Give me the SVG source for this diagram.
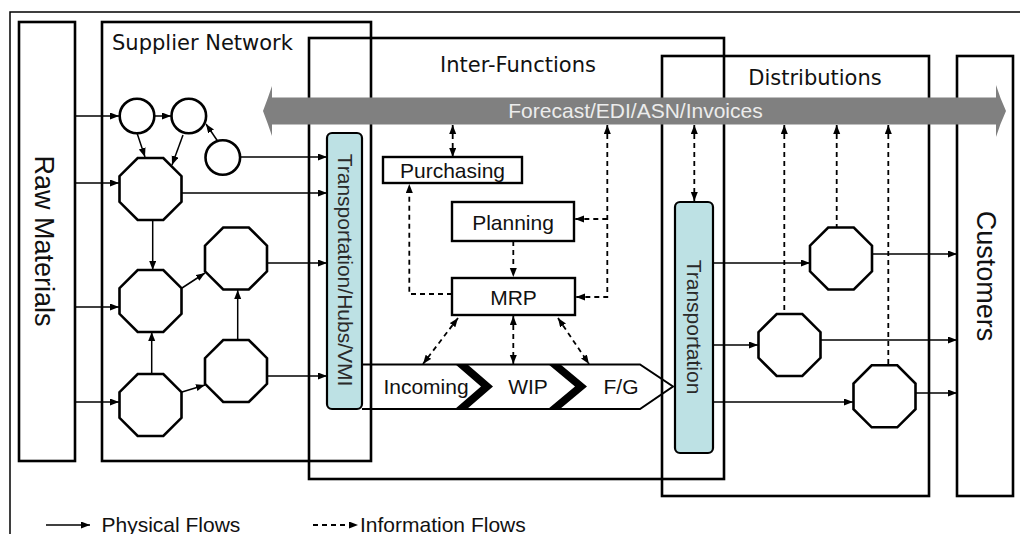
<svg xmlns="http://www.w3.org/2000/svg" width="1020" height="534" viewBox="0 0 1020 534">
  <style>
    .box { fill: none; stroke: #000; stroke-width: 2.6; }
    .frame { fill: none; stroke: #000; stroke-width: 1.5; }
    .hdr { font-family: "DejaVu Sans", sans-serif; font-size: 21px; fill: #111; }
    .lbl { font-family: "Liberation Sans", Arial, sans-serif; font-size: 21px; fill: #111; }
    .big { font-family: "Liberation Sans", Arial, sans-serif; font-size: 27px; fill: #111; }
    .vt { font-family: "Liberation Sans", Arial, sans-serif; font-size: 21px; fill: #2a2a2a; }
    .node { fill: #fff; stroke: #000; stroke-width: 2.6; }
    .fn { fill: #fff; stroke: #000; stroke-width: 2.4; }
    .teal { fill: #bde1e4; stroke: #000; stroke-width: 2.2; }
    .phys { fill: none; stroke: #000; stroke-width: 1.5; marker-end: url(#ah); }
    .info { fill: none; stroke: #000; stroke-width: 1.8; stroke-dasharray: 5 4; marker-end: url(#ah); }
    .both { marker-start: url(#ah); }
    .up { marker-end: none; marker-start: url(#ah); }
  </style>
  <defs>
    <marker id="ah" markerUnits="userSpaceOnUse" markerWidth="10" markerHeight="8" refX="9" refY="3.5" orient="auto-start-reverse">
      <path d="M0,0 L9,3.5 L0,7 z" fill="#000"/>
    </marker>
    <!-- regular octagon, flat top, 62 px across -->
    <polygon id="oct" points="-12.8,-31 12.8,-31 31,-12.8 31,12.8 12.8,31 -12.8,31 -31,12.8 -31,-12.8"/>
  </defs>

  <!-- outer frame -->
  <rect class="frame" x="10" y="12" width="1020" height="540"/>

  <!-- stage containers -->
  <g id="raw-materials">
    <rect class="box" x="19" y="22" width="56" height="439"/>
    <text class="big" transform="translate(45,241) rotate(90)" text-anchor="middle" y="9.7">Raw Materials</text>
  </g>
  <g id="supplier-network">
    <rect class="box" x="102" y="22" width="269" height="439"/>
    <text class="hdr" x="112" y="50">Supplier Network</text>
  </g>
  <g id="inter-functions">
    <rect class="box" x="309" y="38" width="415" height="441"/>
    <text class="hdr" x="518" y="72" text-anchor="middle">Inter-Functions</text>
  </g>
  <g id="distributions">
    <rect class="box" x="662" y="56" width="267" height="440"/>
    <text class="hdr" x="815" y="85" text-anchor="middle">Distributions</text>
  </g>
  <g id="customers">
    <rect class="box" x="957" y="56" width="56" height="440"/>
    <text class="big" transform="translate(987,276) rotate(90)" text-anchor="middle" y="9.7">Customers</text>
  </g>

  <!-- shared information channel -->
  <g id="info-channel">
    <path d="M263,111 Q268,98 272,86 L272,97.5 L996,97.5 L996,85 Q1000,98 1006,111 Q1000,124 996,137 L996,124.5 L272,124.5 L272,136 Q268,124 263,111 Z" fill="#808080"/>
    <text x="635.5" y="118" text-anchor="middle" font-family="Liberation Sans, Arial, sans-serif" font-size="21" fill="#ececec">Forecast/EDI/ASN/Invoices</text>
  </g>

  <!-- connectors -->
  <g id="connectors">
    <!-- physical flows, supplier network -->
    <path class="phys" d="M75,116 H119"/>
    <path class="phys" d="M154,116 H171"/>
    <path class="phys" d="M137,133 L145,157"/>
    <path class="phys" d="M183,135 L172,165"/>
    <path class="phys" d="M221,146 L206,124"/>
    <path class="phys" d="M240,157 H327"/>
    <path class="phys" d="M75,183 H119"/>
    <path class="phys" d="M182,193 H327"/>
    <path class="phys" d="M152.7,220 V270"/>
    <path class="phys" d="M75,307 H119"/>
    <path class="phys" d="M182,288 L205,273"/>
    <path class="phys" d="M267,263 H327"/>
    <path class="phys" d="M237.7,340 V290"/>
    <path class="phys" d="M151.7,374 V332"/>
    <path class="phys" d="M75,402 H119"/>
    <path class="phys" d="M182,392 L205,385"/>
    <path class="phys" d="M267,376 H327"/>

    <!-- physical flows, distribution -->
    <path class="phys" d="M713,263 H810"/>
    <path class="phys" d="M872,254 H957"/>
    <path class="phys" d="M713,345 H758"/>
    <path class="phys" d="M821,340 H957"/>
    <path class="phys" d="M713,402 H853"/>
    <path class="phys" d="M916,393 H957"/>

    <!-- information flows, inter-functions -->
    <path class="info both" d="M452.7,125 V157"/>
    <path class="info both" d="M607.3,125 V297 H576"/>
    <path class="info" d="M607.3,219 H575"/>
    <path class="info" d="M452,294 H409.3 V184"/>
    <path class="info" d="M513.3,241 V277"/>
    <path class="info both" d="M458,318 L423,364"/>
    <path class="info both" d="M513.3,316 V364"/>
    <path class="info both" d="M558,318 L589,364"/>

    <!-- information flows, distribution -->
    <path class="info both" d="M694.3,125 V201"/>
    <path class="info up" d="M784.3,125 V314"/>
    <path class="info up" d="M836.7,125 V228"/>
    <path class="info up" d="M888.3,125 V366"/>
  </g>

  <!-- supplier nodes -->
  <g id="supplier-1"><circle class="node" cx="137" cy="116" r="17.3"/></g>
  <g id="supplier-2"><circle class="node" cx="188.8" cy="116" r="17.3"/></g>
  <g id="supplier-3"><circle class="node" cx="222.8" cy="157.5" r="17.3"/></g>
  <g id="plant-a"><use href="#oct" class="node" x="150.5" y="189"/></g>
  <g id="plant-b"><use href="#oct" class="node" x="150.5" y="301"/></g>
  <g id="plant-c"><use href="#oct" class="node" x="150.5" y="405"/></g>
  <g id="plant-d"><use href="#oct" class="node" x="236" y="258.5"/></g>
  <g id="plant-e"><use href="#oct" class="node" x="236" y="371"/></g>

  <!-- inbound logistics -->
  <g id="transport-hubs">
    <rect class="teal" x="327" y="133" width="35" height="276" rx="5"/>
    <text class="vt" transform="translate(345,270) rotate(90)" text-anchor="middle" y="7.5">Transportation/Hubs/VMI</text>
  </g>

  <!-- internal functions -->
  <g id="purchasing">
    <rect class="fn" x="383" y="157" width="139" height="26"/>
    <text class="lbl" x="452.5" y="177.5" text-anchor="middle">Purchasing</text>
  </g>
  <g id="planning">
    <rect class="fn" x="452" y="202" width="122" height="39"/>
    <text class="lbl" x="513" y="229.5" text-anchor="middle">Planning</text>
  </g>
  <g id="mrp">
    <rect class="fn" x="452" y="278" width="123" height="37"/>
    <text class="lbl" x="513.5" y="304.5" text-anchor="middle">MRP</text>
  </g>

  <!-- production stages -->
  <g id="process">
    <path d="M362,364.5 H640 L673,386.5 L640,409 H362" fill="none" stroke="#000" stroke-width="2"/>
    <polygon points="455,364 467,364 493,386.5 467,409 455,409 481,386.5" fill="#000"/>
    <polygon points="548,364 560,364 587,386.5 560,409 548,409 575,386.5" fill="#000"/>
    <text class="lbl" x="426" y="394" text-anchor="middle">Incoming</text>
    <text class="lbl" x="528" y="394" text-anchor="middle">WIP</text>
    <text class="lbl" x="621" y="394" text-anchor="middle">F/G</text>
  </g>

  <!-- outbound logistics -->
  <g id="transport-dist">
    <rect class="teal" x="675" y="202" width="38" height="251" rx="5"/>
    <text class="vt" transform="translate(694,327) rotate(90)" text-anchor="middle" y="7.5">Transportation</text>
  </g>

  <!-- distribution nodes -->
  <g id="dc-1"><use href="#oct" class="node" x="841" y="258.5"/></g>
  <g id="dc-2"><use href="#oct" class="node" x="789.5" y="345"/></g>
  <g id="dc-3"><use href="#oct" class="node" x="884.5" y="396.3"/></g>

  <!-- legend -->
  <g id="legend">
    <path class="phys" d="M46,525 H90"/>
    <text class="lbl" x="101.5" y="531.5">Physical Flows</text>
    <path class="info" d="M313,525 H358"/>
    <text class="lbl" x="360" y="531.5">Information Flows</text>
  </g>
</svg>
